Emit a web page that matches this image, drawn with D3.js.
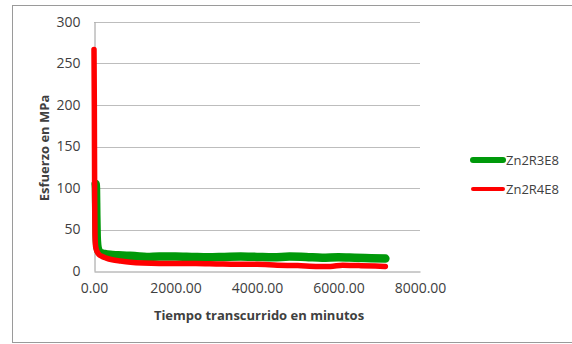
<!DOCTYPE html>
<html>
<head>
<meta charset="utf-8">
<script src="https://cdn.jsdelivr.net/npm/d3@7"></script>
<style>
  html, body { margin: 0; padding: 0; background: #fff; }
  svg { display: block; }
  text { font-family: "Open Sans", "Noto Sans", sans-serif; fill: #404040; }
</style>
</head>
<body>
<svg id="chart" width="572" height="344"></svg>
<script>
// Elapsed time (minutes) and stress (MPa) for each specimen
const timeR3 = [40, 48, 56, 66, 80, 100, 130, 180, 260, 400, 600, 800, 1000, 1300, 1600, 2000, 2400, 2800, 3200, 3600, 4000, 4400, 4800, 5200, 5600, 6000, 6400, 6800, 7150];
const stressR3 = [105, 100, 68, 42, 31, 26, 23, 21.5, 20.5, 19.5, 19, 18.5, 18, 17, 17.5, 17.5, 17, 16.5, 17, 17.5, 17, 16.5, 17.5, 17, 16, 16.5, 16, 15.5, 15];
const timeR4 = [0, 8, 16, 24, 35, 50, 80, 120, 200, 300, 450, 650, 900, 1200, 1600, 2000, 2500, 3000, 3500, 4000, 4500, 5000, 5500, 5800, 6100, 6500, 6900, 7150];
const stressR4 = [267, 200, 90, 45, 32, 27, 23, 20, 17.5, 15.5, 13.5, 12, 10.5, 9.5, 9, 9, 9, 8.5, 8, 8, 7, 6.5, 5.5, 5.5, 7, 6.5, 6, 5.5];

const seriesNames = ["Zn2R3E8", "Zn2R4E8"];
const seriesColors = ["#00990a", "#ff0000"];
const yTicks = [0, 50, 100, 150, 200, 250, 300];
const xTicks = [0, 2000, 4000, 6000, 8000];

const svg = d3.select("#chart");

// outer chart frame
svg.append("rect")
  .attr("x", 12.5).attr("y", 5.5)
  .attr("width", 570).attr("height", 337)
  .attr("fill", "none").attr("stroke", "#9a9a9a").attr("stroke-width", 1);

const plot = { left: 94, right: 420, top: 22, bottom: 271 };
const x = d3.scaleLinear().domain([0, 8000]).range([plot.left, plot.right]);
const y = d3.scaleLinear().domain([0, 300]).range([plot.bottom, plot.top]);

// horizontal gridlines
svg.append("g").selectAll("line").data(yTicks.filter(d => d > 0)).join("line")
  .attr("x1", plot.left).attr("x2", plot.right)
  .attr("y1", d => Math.round(y(d)) + 0.5).attr("y2", d => Math.round(y(d)) + 0.5)
  .attr("stroke", "#bdbdbd").attr("stroke-width", 1);

// y axis
const yAxis = svg.append("g")
  .attr("transform", `translate(${plot.left + 0.5},0)`)
  .call(d3.axisLeft(y).tickValues(yTicks).tickSize(0).tickPadding(14).tickFormat(d3.format("d")));
yAxis.select(".domain").attr("stroke", "#9a9a9a");
yAxis.selectAll("text").style("font-size", "14px").attr("fill", "#404040");

// x axis
const xAxis = svg.append("g")
  .attr("transform", `translate(0,${Math.round(plot.bottom) + 0.5})`)
  .call(d3.axisBottom(x).tickValues(xTicks).tickSize(0).tickPadding(12).tickFormat(d3.format(".2f")));
xAxis.select(".domain").attr("stroke", "#9a9a9a");
xAxis.selectAll("text").style("font-size", "14px").attr("fill", "#404040");

// series lines
const line = d3.line().x(d => x(d[0])).y(d => y(d[1])).curve(d3.curveMonotoneX);
const dataR3 = timeR3.map((t, i) => [t, stressR3[i]]);
const dataR4 = timeR4.map((t, i) => [t, stressR4[i]]);

svg.append("path").datum(dataR3)
  .attr("d", line).attr("fill", "none")
  .attr("stroke", seriesColors[0]).attr("stroke-width", 8.5)
  .attr("stroke-linecap", "round").attr("stroke-linejoin", "round");

svg.append("path").datum(dataR4)
  .attr("d", line).attr("fill", "none")
  .attr("stroke", seriesColors[1]).attr("stroke-width", 5.5)
  .attr("stroke-linecap", "round").attr("stroke-linejoin", "round");

// axis titles
svg.append("text")
  .attr("x", 259).attr("y", 320)
  .attr("text-anchor", "middle")
  .style("font-size", "13px").style("font-weight", "bold").attr("fill", "#000")
  .text("Tiempo transcurrido  en minutos");

svg.append("text")
  .attr("transform", "translate(49,148) rotate(-90)")
  .attr("text-anchor", "middle")
  .style("font-size", "13px").style("font-weight", "bold").attr("fill", "#000")
  .text("Esfuerzo en MPa");

// legend
const legend = svg.append("g");
const legendY = [160, 189];
const legendW = [6, 4];
seriesNames.forEach((name, i) => {
  legend.append("line")
    .attr("x1", 473).attr("x2", 503)
    .attr("y1", legendY[i]).attr("y2", legendY[i])
    .attr("stroke", seriesColors[i]).attr("stroke-width", legendW[i])
    .attr("stroke-linecap", "round");
  legend.append("text")
    .attr("x", 506).attr("y", legendY[i]).attr("dy", "0.35em")
    .style("font-size", "13px").attr("fill", "#404040")
    .text(name);
});
</script>
</body>
</html>
